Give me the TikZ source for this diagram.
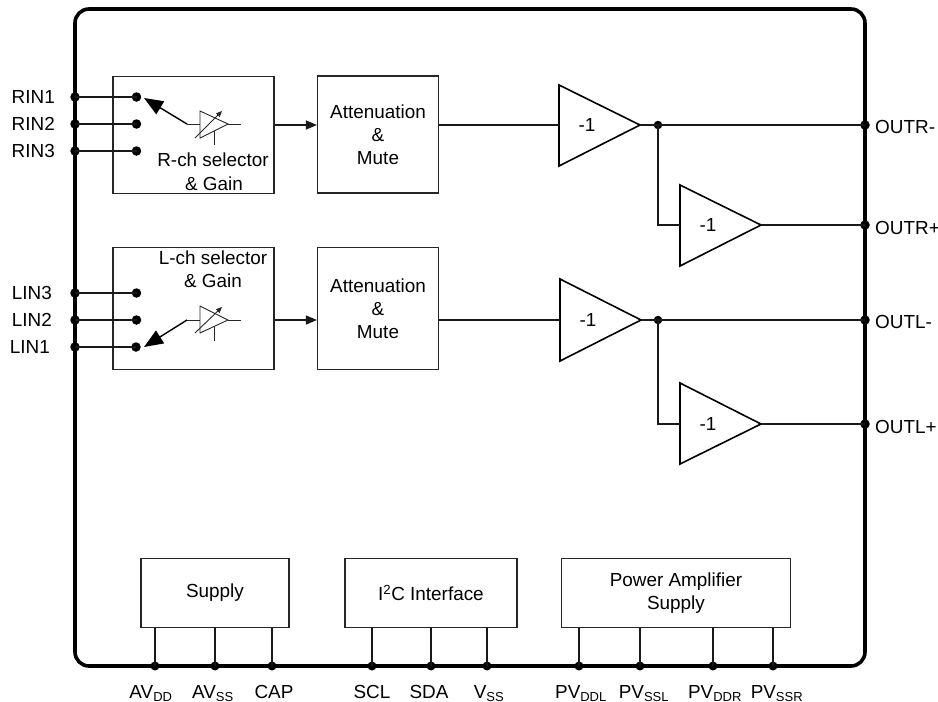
\documentclass[tikz,border=0pt]{standalone}
\usepackage{fontspec}
\setmainfont{Liberation Sans}
\usetikzlibrary{arrows.meta}
\tikzset{
 x=1pt,y=-1pt,
 lab/.style={font=\fontsize{18.9}{22}\selectfont,inner sep=0pt,align=center},
 pinlab/.style={lab,anchor=base},
 blk/.style={draw=black!85,line width=1.1pt,inner sep=0pt,align=center,font=\fontsize{18.9}{23}\selectfont},
 wire/.style={line width=1.1pt,draw=black!90},
 dot/.style={circle,fill=black,inner sep=0pt,minimum size=9.5pt},
 tri/.style={draw=black,line width=1.6pt,line join=miter},
 sw/.style={line width=1.4pt,-{Triangle[length=19pt,width=15pt]}},
 ampl/.style={line width=0.9pt,draw=black!85}
}
\newcommand{\dd}[2]{#1\textsubscript{\fontsize{13}{14}\selectfont #2}}
\begin{document}
\begin{tikzpicture}
\useasboundingbox (0,0) rectangle (938,702);
% package outline
\draw[line width=3.6pt,rounded corners=14pt] (75,9) rectangle (865,666);
% blocks
\node[blk,minimum width=161pt,minimum height=117pt] (rsel) at (193.5,135) {};
\node[blk,minimum width=161pt,minimum height=122pt] (lsel) at (193.5,308.5) {};
\node[blk,minimum width=121pt,minimum height=117pt] (ratt) at (378,134.5) {Attenuation\\\&\\Mute};
\node[blk,minimum width=121pt,minimum height=122pt] (latt) at (378,308.5) {Attenuation\\\&\\Mute};
\node[blk,minimum width=148pt,minimum height=69pt] (sup) at (215,593) {Supply};
\node[blk,minimum width=172pt,minimum height=69pt] (i2c) at (431,593) {I\textsuperscript{2}C Interface};
\node[blk,minimum width=229pt,minimum height=69pt] (pa) at (676,593) {Power Amplifier\\Supply};
\node[lab] at (213,160) {R-ch selector};
\node[lab] at (214,184) {\& Gain};
\node[lab] at (213,258) {L-ch selector};
\node[lab] at (213,281) {\& Gain};
% amplifiers
\draw[tri] (559,85) -- (640,125) -- (559,166) -- cycle;
\coordinate (a1o) at (640,125); \coordinate (a1i) at (559,125);
\node[lab] at (587,125) {-1};
\draw[tri] (680,185) -- (761,225) -- (680,266) -- cycle;
\coordinate (a2o) at (761,225); \coordinate (a2i) at (680,225);
\node[lab] at (708,225) {-1};
\draw[tri] (560,279) -- (641,320) -- (560,361) -- cycle;
\coordinate (a3o) at (641,320); \coordinate (a3i) at (560,320);
\node[lab] at (588,320) {-1};
\draw[tri] (680,383) -- (761,424) -- (680,464) -- cycle;
\coordinate (a4o) at (761,424); \coordinate (a4i) at (680,424);
\node[lab] at (708,424) {-1};
% output pins
\node[dot] (poutrm) at (865,125) {};
\node[dot] (poutrp) at (865,225) {};
\node[dot] (poutlm) at (865,320) {};
\node[dot] (poutlp) at (865,424) {};
\node[lab,anchor=west] at (875,127) {OUTR-};
\node[lab,anchor=west] at (875,228) {OUTR+};
\node[lab,anchor=west] at (875,322) {OUTL-};
\node[lab,anchor=west] at (875,427) {OUTL+};
\node[dot,minimum size=8.5pt] (j1) at (658,125) {};
\node[dot,minimum size=8.5pt] (j2) at (658,320) {};
\draw[wire] (a1o) -- (poutrm.center);
\draw[wire] (a3o) -- (poutlm.center);
\draw[wire] (a2o) -- (poutrp.center);
\draw[wire] (a4o) -- (poutlp.center);
\draw[wire] (j1.center) |- (a2i);
\draw[wire] (j2.center) |- (a4i);
% atten links
\draw[wire] (ratt.east |- a1i) -- (a1i);
\draw[wire] (latt.east |- a3i) -- (a3i);
\draw[wire,-{Triangle[length=11pt,width=9pt]}] (rsel.east |- 0,125) -- (ratt.west |- 0,125);
\draw[wire,-{Triangle[length=11pt,width=9pt]}] (lsel.east |- 0,320) -- (latt.west |- 0,320);
% input pins
\foreach \n/\y/\t/\xx/\lx in {ra/97/RIN1/136.5/55,rb/124/RIN2/136.5/55,rc/151/RIN3/136.5/55,la/293/LIN3/136.5/52,lb/320/LIN2/136.5/52,lc/347/LIN1/136/50}{
  \node[dot] (p\n) at (75,\y) {};
  \node[dot] (c\n) at (\xx,\y) {};
  \draw[wire] (p\n.center) -- (c\n.center);
  \node[lab,anchor=east] at (\lx,\y) {\t};
}
% gain R
\coordinate (rg1) at (187,124); \coordinate (rg2) at (200,124);\coordinate (rg3) at (228,124);\coordinate (rg4) at (241,124);
\draw[sw] (rg1) -- (144,98);
\draw[ampl] (rg1) -- (rg2);
\draw[ampl] (200,111) -- (228,124) -- (200,138) -- cycle;
\draw[ampl] (rg3) -- (rg4);
\draw[ampl] (214,131) -- (214,145);
\draw[ampl,-{Triangle[length=6pt,width=5pt]}] (195,138) -- (222,111);
% gain L
\coordinate (lg1) at (187,320); \coordinate (lg2) at (200,320);\coordinate (lg3) at (228,320);\coordinate (lg4) at (241,320);
\draw[sw] (lg1) -- (144,347);
\draw[ampl] (lg1) -- (lg2);
\draw[ampl] (200,306) -- (228,320) -- (200,333) -- cycle;
\draw[ampl] (lg3) -- (lg4);
\draw[ampl] (214,327) -- (214,341);
\draw[ampl,-{Triangle[length=6pt,width=5pt]}] (195,333) -- (222,307);
% bottom pins
\foreach \n/\x/\lx/\t in {p1/155/151/{\dd{AV}{DD}},p2/215/213/{\dd{AV}{SS}},p3/272/274/{CAP},p4/372/372/{SCL},p5/431/429/{SDA},p6/487/489/{\dd{V}{SS}},p7/579/581/{\dd{PV}{DDL}},p8/640/644/{\dd{PV}{SSL}},p9/713/715/{\dd{PV}{DDR}},p10/773/777/{\dd{PV}{SSR}}}{
  \node[dot,minimum size=9pt] (\n) at (\x,666) {};
  \node[pinlab] at (\lx,698) {\t};
}
\draw[wire] (sup.south -| p1) -- (p1.center);
\draw[wire] (sup.south -| p2) -- (p2.center);
\draw[wire] (sup.south -| p3) -- (p3.center);
\draw[wire] (i2c.south -| p4) -- (p4.center);
\draw[wire] (i2c.south -| p5) -- (p5.center);
\draw[wire] (i2c.south -| p6) -- (p6.center);
\draw[wire] (pa.south -| p7) -- (p7.center);
\draw[wire] (pa.south -| p8) -- (p8.center);
\draw[wire] (pa.south -| p9) -- (p9.center);
\draw[wire] (pa.south -| p10) -- (p10.center);
\end{tikzpicture}
\end{document}
